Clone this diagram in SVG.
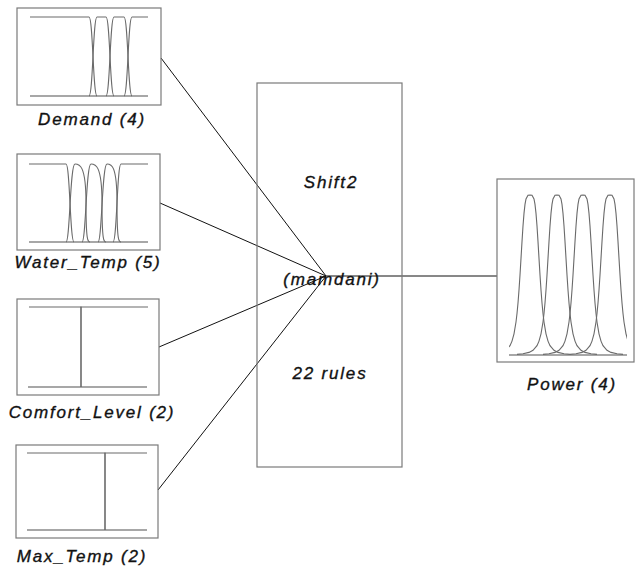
<svg xmlns="http://www.w3.org/2000/svg" width="635" height="573" viewBox="0 0 635 573">
<style>
.box{fill:none;stroke:#7a7a7a;stroke-width:1.2}
.mf{fill:none;stroke:#6a6a6a;stroke-width:1.1}
.base{fill:none;stroke:#8a8a8a;stroke-width:1.4}
.lbl{font-family:"Liberation Sans",Arial,sans-serif;font-style:italic;font-size:17px;letter-spacing:1.8px;fill:#111;stroke:#111;stroke-width:0.35;text-anchor:middle}
.con{stroke:#111;stroke-width:1;fill:none}
</style>
<defs>
<clipPath id="pclip"><rect x="509" y="185" width="118" height="175"/></clipPath>
<polyline id="bell" class="mf" points="-40,354.4 -34,353.8 -28,352.4 -24,350.3 -20,345.6 -18,341.1 -16,333.8 -14,322 -13,313.5 -12,303 -11,290 -10,275 -9,258.4 -8,241.6 -7,226 -6,213.4 -5,204.4 -4,199 -2,195.3 0,195 2,195.3 4,199 5,204.4 6,213.4 7,226 8,241.6 9,258.4 10,275 11,290 12,303 13,313.5 14,322 16,333.8 18,341.1 20,345.6 24,350.3 28,352.4 34,353.8 40,354.4"/>
</defs>
<rect width="635" height="573" fill="#fff"/>
<g id="connectors">
<line class="con" x1="161" y1="58" x2="326" y2="276"/>
<line class="con" x1="160" y1="203" x2="326" y2="276"/>
<line class="con" x1="159" y1="347" x2="326" y2="276"/>
<line class="con" x1="158" y1="490" x2="326" y2="276"/>
<line class="con" x1="326" y1="276" x2="497" y2="276"/>
</g>
<g id="demand">
<rect class="box" x="17" y="8" width="144" height="97"/>
<line class="base" x1="30" y1="96" x2="148" y2="96"/>
<path class="mf" d="M30,17 H89 C93,17 93,96 97,96"/>
<path class="mf" d="M89,96 C93,96 93,17 97,17 H106 C110,17 110,96 114,96"/>
<path class="mf" d="M106,96 C110,96 110,17 114,17 H124 C128,17 128,96 132,96"/>
<path class="mf" d="M124,96 C128,96 128,17 132,17 H148"/>
<text class="lbl" x="92" y="125">Demand (4)</text>
</g>
<g id="water_temp">
<rect class="box" x="17" y="154" width="143" height="96"/>
<line class="base" x1="29" y1="242" x2="148" y2="242"/>
<path class="mf" d="M29,164 H66 C70,164 70,242 74,242"/>
<path class="mf" d="M66,242 C70,242 70,164 75,164 C79,164 86,164 86,203 C86,242 88,242 90,242"/>
<path class="mf" d="M82,242 C86,242 86,164 91,164 C95,164 102,164 102,203 C102,242 104,242 106,242"/>
<path class="mf" d="M98,242 C102,242 102,164 107,164 C111,164 117,164 117,203 C117,242 119,242 121,242"/>
<path class="mf" d="M113,242 C117,242 117,164 121,164 H148"/>
<text class="lbl" x="88" y="268">Water_Temp (5)</text>
</g>
<g id="comfort_level">
<rect class="box" x="17" y="299" width="142" height="96"/>
<line class="base" x1="28" y1="387" x2="147" y2="387"/>
<path class="mf" d="M29,307 H81 V387"/>
<path class="mf" d="M81,387 V307 H148"/>
<text class="lbl" x="92" y="418">Comfort_Level (2)</text>
</g>
<g id="max_temp">
<rect class="box" x="16" y="445" width="142" height="93"/>
<line class="base" x1="27" y1="530" x2="147" y2="530"/>
<path class="mf" d="M27,453 H105 V530"/>
<path class="mf" d="M105,530 V453 H147"/>
<text class="lbl" x="82" y="562">Max_Temp (2)</text>
</g>
<g id="shift2">
<rect class="box" x="257" y="83" width="145" height="384"/>
<text class="lbl" x="331" y="188">Shift2</text>
<text class="lbl" x="332" y="285">(mamdani)</text>
<text class="lbl" x="330" y="379">22 rules</text>
</g>
<g id="power">
<rect class="box" x="497" y="179" width="137" height="183"/>
<line class="base" x1="509" y1="355" x2="627" y2="355"/>
<g clip-path="url(#pclip)">
<use href="#bell" x="530"/>
<use href="#bell" x="557"/>
<use href="#bell" x="583"/>
<use href="#bell" x="610"/>
</g>
<text class="lbl" x="572" y="390">Power (4)</text>
</g>
</svg>
